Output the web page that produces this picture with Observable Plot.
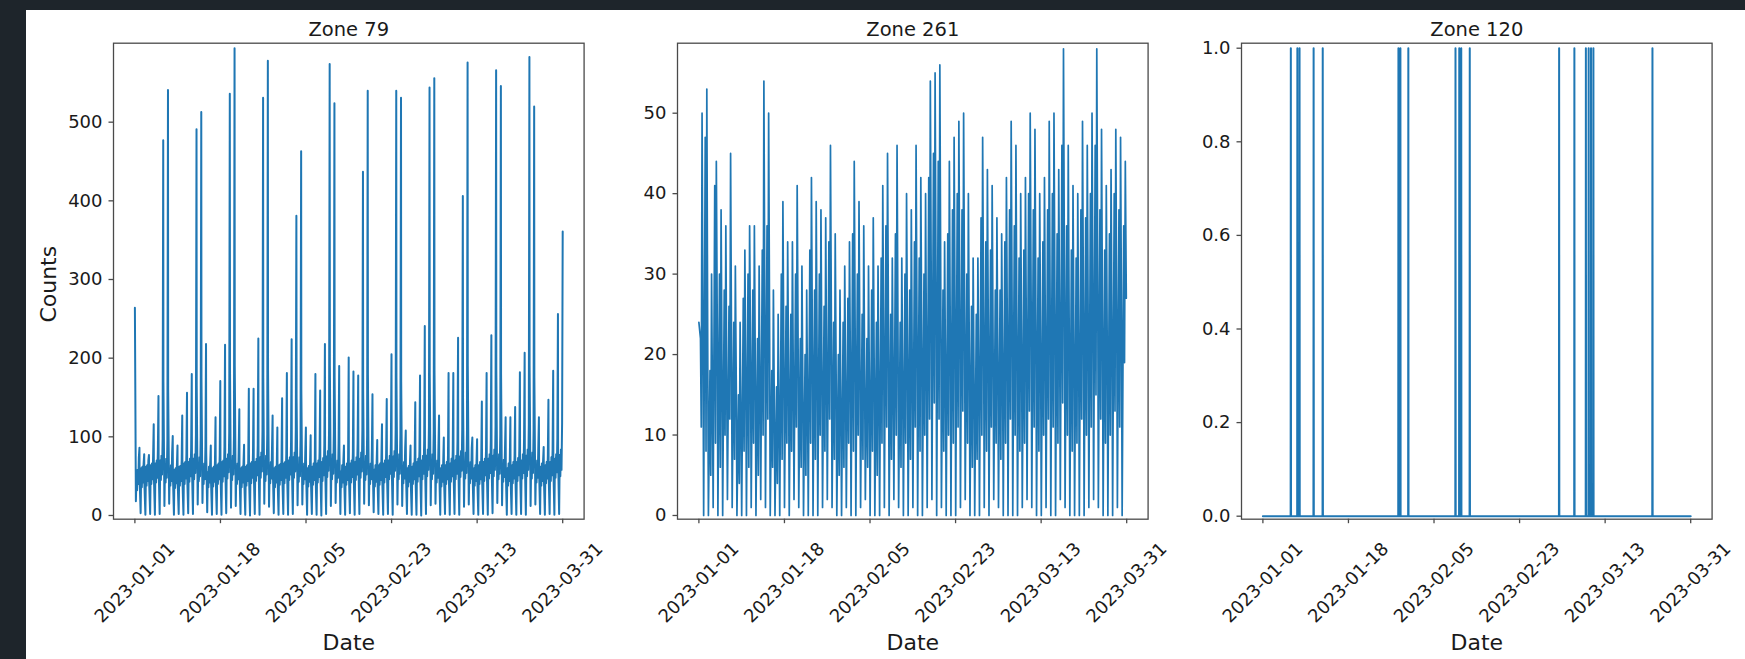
<!DOCTYPE html>
<html>
<head>
<meta charset="utf-8">
<script src="https://cdn.jsdelivr.net/npm/d3@7"></script>
<script src="https://cdn.jsdelivr.net/npm/@observablehq/plot@0.6"></script>
<style>
html, body { margin: 0; padding: 0; width: 1745px; height: 659px; overflow: hidden; background: #1e252b; }
#page { position: absolute; left: 26px; top: 9.5px; width: 1719px; height: 650px; background: #ffffff; }
.panel { position: absolute; top: 0; }
</style>
</head>
<body>
<div id="page"></div>
<script>
// ---------- data ----------
const zoneTitles = ["Zone 79", "Zone 261", "Zone 120"];
const tickLabels = ["2023-01-01", "2023-01-18", "2023-02-05", "2023-02-23", "2023-03-13", "2023-03-31"];
const xLabel = "Date";
const yLabel = "Counts";

// Zone 79: one value per day (2023-01-01 .. 2023-03-31) at 00h, 05h, 08h, 11h, 14h, 17h, 20h, 23h
const night79 = [
  264,45,40,42,48,60,170,
  160,50,42,45,50,62,165,
  175,80,45,48,55,65,185,
  190,55,45,50,55,68,175,
  185,60,48,50,55,66,150,
  160,55,48,50,58,66,190,
  175,85,50,52,56,64,160,
  180,70,48,50,55,66,175,
  170,55,45,50,56,68,180,
  185,58,48,52,58,70,150,
  190,55,46,50,58,68,185,
  180,56,48,52,58,70,190,
  175,55,48,52,60,70];
const low79 = [
  18,3,1,2,1,2,12,
  15,1,2,1,3,2,14,
  16,4,1,2,1,3,10,
  12,2,1,0,2,1,15,
  11,3,1,2,1,2,13,
  14,1,2,1,0,2,12,
  16,2,1,3,1,2,15,
  13,4,2,1,2,1,14,
  12,2,1,1,0,2,13,
  15,1,2,1,2,1,11,
  14,2,1,2,1,3,16,
  13,1,2,1,2,1,12,
  14,2,1,2,1,2];
const morn79 = [
  48,60,62,64,66,70,62,
  55,58,62,66,68,72,64,
  58,55,60,64,68,72,66,
  56,60,62,66,68,74,66,
  58,60,64,66,70,74,64,
  56,60,62,66,68,75,66,
  58,56,62,66,68,72,64,
  58,58,64,66,70,75,66,
  56,60,62,68,70,76,68,
  58,60,64,66,70,75,66,
  58,60,64,68,72,76,68,
  60,60,64,68,70,76,68,
  58,62,64,68,72,77];
const dipA79 = [
  32,36,38,40,42,45,42,
  38,35,38,40,43,46,44,
  40,36,37,40,43,47,45,
  40,36,38,41,44,48,44,
  41,36,39,41,45,48,43,
  40,37,39,42,44,49,46,
  42,36,39,42,45,48,45,
  40,37,39,42,46,49,46,
  41,37,40,43,46,50,46,
  42,37,40,43,46,49,47,
  41,38,40,44,47,50,46,
  43,38,41,44,47,50,47,
  42,38,41,44,48,50];
const day79 = [
  58,62,64,66,70,76,72,
  64,60,63,68,72,78,74,
  66,62,62,66,70,78,76,
  66,62,64,68,72,80,76,
  68,62,65,68,74,80,74,
  66,63,66,70,73,82,78,
  70,64,66,70,74,80,76,
  66,64,66,70,76,82,78,
  68,63,66,72,76,84,78,
  70,64,68,72,76,82,80,
  68,64,68,72,78,84,78,
  71,66,68,73,78,84,80,
  70,66,68,74,78,84];
const dipB79 = [
  40,42,44,46,48,52,48,
  44,41,44,47,50,54,50,
  46,42,43,46,50,55,52,
  46,42,44,48,51,56,52,
  47,42,45,48,52,56,50,
  46,43,45,49,51,57,53,
  48,42,45,49,52,56,52,
  46,43,45,49,53,57,53,
  47,43,46,50,53,58,53,
  48,43,46,50,53,57,54,
  47,44,46,51,54,58,53,
  49,44,47,51,54,58,54,
  48,44,47,51,55,58];
const eve79 = [
  74,66,70,76,84,98,95,
  80,64,70,78,86,104,100,
  88,66,68,76,88,106,102,
  84,66,70,80,90,108,104,
  86,64,72,78,92,110,98,
  82,66,72,80,90,112,106,
  92,68,74,80,92,108,102,
  84,68,72,80,94,110,104,
  86,66,74,82,96,114,106,
  88,68,76,82,94,110,108,
  86,68,74,84,96,114,104,
  88,70,76,84,98,116,108,
  88,70,76,84,98,118];
const peak79 = [
  86,78,77,116,152,477,541,
  101,89,127,156,180,491,513,
  218,89,125,171,217,536,594,
  135,90,161,161,225,531,578,
  127,112,149,181,224,381,463,
  112,102,180,159,218,574,524,
  190,89,201,183,178,437,540,
  154,96,116,148,205,540,531,
  108,89,144,178,241,544,556,
  127,99,181,181,226,406,576,
  99,97,145,181,229,566,546,
  125,125,138,182,207,583,520,
  125,87,147,184,256,361];

// Zone 261: one value per day at 00h, 08h, 12h, 16h, 21h
const low261 = [
  24,0,0,1,0,0,2,
  1,0,0,0,1,0,2,
  1,0,0,0,1,0,2,
  1,0,0,0,0,1,2,
  1,0,0,1,0,0,1,
  2,0,0,0,1,0,2,
  1,0,0,1,0,0,1,
  2,0,1,0,0,0,1,
  2,0,0,0,1,0,2,
  1,0,0,0,0,1,2,
  1,0,0,1,0,0,2,
  1,0,0,0,0,1,2,
  1,0,0,0,1,0];
const am261 = [
  22,47,18,41,30,28,26,
  24,15,27,30,28,22,33,
  36,18,16,30,26,25,30,
  22,20,33,28,30,26,34,
  24,20,24,27,35,30,25,
  22,28,24,32,36,25,35,
  24,30,28,34,32,30,42,
  45,44,28,35,38,40,38,
  30,26,25,37,34,33,28,
  28,34,38,36,32,33,40,
  38,32,34,38,40,35,46,
  36,33,32,38,37,40,46,
  38,33,35,40,38,36];
const mid261 = [
  11,8,5,9,6,10,12,
  7,4,8,6,9,5,10,
  12,6,4,7,9,8,11,
  6,5,9,7,10,8,12,
  7,5,6,9,8,10,7,
  6,8,5,9,11,7,10,
  6,9,7,11,8,10,12,
  14,12,8,10,9,11,13,
  9,6,7,10,8,11,9,
  7,9,12,10,8,9,13,
  11,8,10,12,11,9,14,
  10,8,9,12,10,11,15,
  12,9,10,13,11,19];
const peak261 = [
  50,53,30,44,38,36,45,
  31,24,33,36,36,31,54,
  50,28,25,39,34,34,41,
  31,28,42,39,38,37,46,
  35,28,31,34,44,39,36,
  31,37,31,41,45,32,46,
  32,40,38,46,42,40,54,
  55,56,34,44,47,49,50,
  40,32,32,47,43,41,37,
  35,42,49,46,40,42,50,
  48,40,42,49,50,43,58,
  46,41,40,49,46,50,58,
  48,41,43,48,47,44];
const eve261 = [
  20,18,12,22,16,14,19,
  15,10,16,18,17,14,24,
  22,12,10,18,16,15,20,
  14,12,20,18,17,16,22,
  16,12,14,17,21,18,15,
  14,17,14,19,22,15,21,
  15,19,17,22,20,18,26,
  27,26,16,21,23,24,24,
  19,15,15,23,21,20,18,
  17,21,24,22,19,20,25,
  23,19,20,24,25,21,28,
  22,20,19,24,22,25,28,
  23,20,21,24,23,27];

// Zone 120: hours with a count of 1 (all other hours are 0)
const spikes120 = [
  "2023-01-06T21","2023-01-08T06","2023-01-08T17","2023-01-11T16","2023-01-13T14",
  "2023-01-29T12","2023-01-29T22","2023-01-31T14",
  "2023-02-10T12","2023-02-11T07","2023-02-11T17","2023-02-13T12",
  "2023-03-04T07","2023-03-07T12","2023-03-09T22","2023-03-10T12","2023-03-11T00","2023-03-11T12",
  "2023-03-23T22"];

// ---------- build series ----------
const HOUR = 3600e3, DAY = 24 * HOUR;
const t0 = Date.UTC(2023, 0, 1, 0);
const t1 = Date.UTC(2023, 2, 31, 23);
const span = t1 - t0;
const xDomain = [new Date(t0 - 0.05 * span), new Date(t1 + 0.05 * span)];
const tickDates = tickLabels.map((_, i) => new Date(t0 + i * span / (tickLabels.length - 1)));

function daily(arrays) {
  const out = [];
  for (let d = 0; d < arrays[0][1].length; d++) {
    for (const [h, arr] of arrays) out.push({t: new Date(t0 + d * DAY + h * HOUR), v: arr[d]});
  }
  return out;
}
const series79 = daily([[0, night79], [5, low79], [8, morn79], [11, dipA79], [14, day79], [17, dipB79], [20, eve79], [23, peak79]]);
const series261 = daily([[0, low261], [8, am261], [12, mid261], [16, peak261], [21, eve261]]);

const parseHour = d3.utcParse("%Y-%m-%dT%H");
const series120 = [{t: new Date(t0), v: 0}];
for (const s of spikes120) {
  const t = parseHour(s).getTime();
  series120.push({t: new Date(t - HOUR), v: 0}, {t: new Date(t), v: 1}, {t: new Date(t + HOUR), v: 0});
}
series120.push({t: new Date(t1), v: 0});

// ---------- layout ----------
const frameTop = 42.7, frameBottom = 518.7, frameW = 470.6;
const ML = 100, MR = 30;
const pageH = 659;
const panelLeft = [112.7, 676.9, 1241.1];

function panel(i, data, yDomain, yTicks, yFormat, lineWidth) {
  const marks = [
    Plot.line(data, {x: "t", y: "v", stroke: "#1f77b4", strokeWidth: lineWidth}),
    Plot.frame({stroke: "#4a4a4a", strokeWidth: 1.3}),
    Plot.axisX(tickDates, {tickSize: 4.5, tickFormat: () => "", label: null, stroke: "#4a4a4a", strokeWidth: 1.3}),
    Plot.text(tickDates, {x: d => d, text: (d, j) => tickLabels[j], frameAnchor: "bottom", dy: 63.5,
      rotate: -45, textAnchor: "middle", lineAnchor: "middle", fontSize: 18, fill: "#1a1a1a"}),
    Plot.axisY(yTicks, {tickSize: 4.5, tickPadding: 6.5, tickFormat: yFormat, label: null, fontSize: 18,
      stroke: "#4a4a4a", strokeWidth: 1.3, fill: "#1a1a1a"}),
    Plot.text([zoneTitles[i]], {frameAnchor: "top", dy: -6.7, lineAnchor: "bottom", fontSize: 19.5, fill: "#1a1a1a"}),
    Plot.text([xLabel], {frameAnchor: "bottom", dy: 131.3, lineAnchor: "bottom", fontSize: 22, fill: "#1a1a1a"})
  ];
  if (i === 0) {
    marks.push(Plot.text([yLabel], {frameAnchor: "left", dx: -64.7, dy: 3, rotate: -90,
      textAnchor: "middle", lineAnchor: "middle", fontSize: 22, fill: "#1a1a1a"}));
  }
  const svg = Plot.plot({
    width: ML + frameW + MR,
    height: pageH,
    marginLeft: ML, marginRight: MR, marginTop: frameTop, marginBottom: pageH - frameBottom,
    style: {background: "transparent", fontFamily: "'DejaVu Sans', sans-serif", overflow: "visible", color: "#1a1a1a"},
    x: {type: "utc", domain: xDomain, axis: null},
    y: {domain: yDomain, axis: null},
    marks
  });
  const div = document.createElement("div");
  div.className = "panel";
  div.style.left = (panelLeft[i] - ML) + "px";
  div.style.width = (ML + frameW + MR) + "px";
  div.appendChild(svg);
  document.body.appendChild(div);
}

panel(0, series79, [-4.7, 600.4], [0, 100, 200, 300, 400, 500], d3.format("d"), 2);
panel(1, series261, [-0.46, 58.7], [0, 10, 20, 30, 40, 50], d3.format("d"), 1.7);
panel(2, series120, [-0.0064, 1.0107], [0, 0.2, 0.4, 0.6, 0.8, 1.0], d3.format(".1f"), 2);
</script>
</body>
</html>
